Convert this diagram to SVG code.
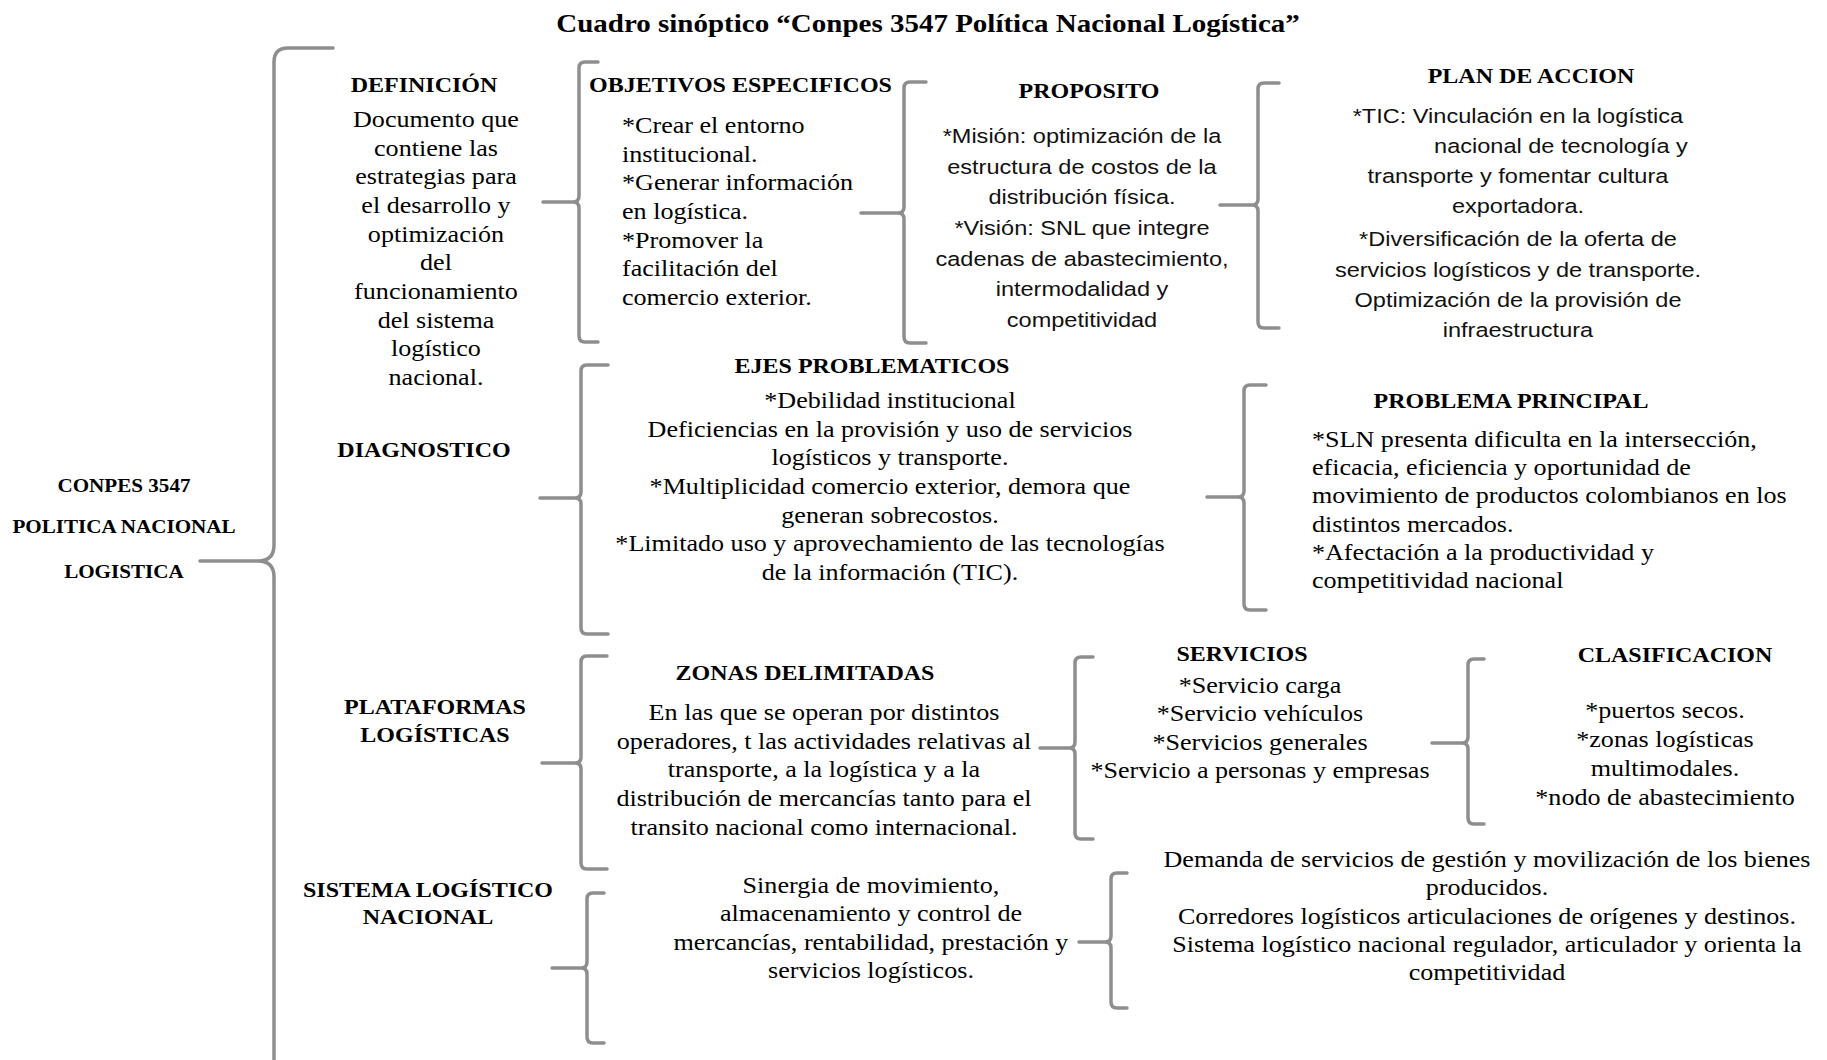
<svg xmlns="http://www.w3.org/2000/svg" width="1827" height="1060" viewBox="0 0 1827 1060">
  <defs>
    <style>
      text { fill: #000000; }
      .serif { font-family: "Liberation Serif", "Times New Roman", serif; font-size: 22.5px; }
      .sans { font-family: "Liberation Sans", Arial, sans-serif; font-size: 20.3px; fill: #111; }
      .head { font-family: "Liberation Serif", "Times New Roman", serif; font-size: 20.7px; font-weight: bold; }
      .title { font-family: "Liberation Serif", "Times New Roman", serif; font-size: 25px; font-weight: bold; }
      .root { font-family: "Liberation Serif", "Times New Roman", serif; font-size: 18.2px; font-weight: bold; }
      /* glyphs are set slightly wide: stretch each line around its own anchor */
      .c { text-anchor: middle; transform-box: fill-box; transform-origin: 50% 50%; transform: scaleX(1.16); }
      .l { text-anchor: start; transform-box: fill-box; transform-origin: 0% 50%; transform: scaleX(1.16); }
      .brace { fill: none; stroke: #8e8e8e; stroke-width: 3.5; stroke-linecap: round; stroke-linejoin: round; }
    </style>
  </defs>
  <rect width="1827" height="1060" fill="#ffffff"/>

  <g id="title">
    <text class="title c" x="928" y="32">Cuadro sinóptico “Conpes 3547 Política Nacional Logística”</text>
  </g>

  <!-- curly braces joining each level to the next -->
  <g id="connectors">
    <path class="brace" d="M333,48 H288 Q274,48 274,62 V545 Q274,561 258,561 H200 M258,561 Q274,561 274,577 V1075"/>
    <path class="brace" d="M598,62 H585 Q579,62 579,68 V196 Q579,202 573,202 H543 M573,202 Q579,202 579,208 V336 Q579,342 585,342 H598"/>
    <path class="brace" d="M926,82 H910 Q904,82 904,88 V207 Q904,213 898,213 H861 M898,213 Q904,213 904,219 V337 Q904,343 910,343 H926"/>
    <path class="brace" d="M1279,83 H1264 Q1258,83 1258,89 V199 Q1258,205 1252,205 H1220 M1252,205 Q1258,205 1258,211 V322 Q1258,328 1264,328 H1279"/>
    <path class="brace" d="M608,365 H587 Q581,365 581,371 V492 Q581,498 575,498 H540 M575,498 Q581,498 581,504 V628 Q581,634 587,634 H608"/>
    <path class="brace" d="M1266,385 H1250 Q1244,385 1244,391 V491 Q1244,497 1238,497 H1207 M1238,497 Q1244,497 1244,503 V604 Q1244,610 1250,610 H1266"/>
    <path class="brace" d="M607,656 H587 Q581,656 581,662 V757 Q581,763 575,763 H542 M575,763 Q581,763 581,769 V863 Q581,869 587,869 H607"/>
    <path class="brace" d="M1093,657 H1081 Q1075,657 1075,663 V742 Q1075,748 1069,748 H1040 M1069,748 Q1075,748 1075,754 V833 Q1075,839 1081,839 H1093"/>
    <path class="brace" d="M1484,659 H1474 Q1468,659 1468,665 V737 Q1468,743 1462,743 H1432 M1462,743 Q1468,743 1468,749 V818 Q1468,824 1474,824 H1484"/>
    <path class="brace" d="M604,893 H593 Q587,893 587,899 V962 Q587,968 581,968 H552 M581,968 Q587,968 587,974 V1037 Q587,1043 593,1043 H604"/>
    <path class="brace" d="M1127,873 H1117 Q1111,873 1111,879 V936 Q1111,942 1105,942 H1079 M1105,942 Q1111,942 1111,948 V1002 Q1111,1008 1117,1008 H1127"/>
  </g>

  <g id="n-conpes">
    <text class="root c" x="124" y="492">CONPES 3547</text>
    <text class="root c" x="124" y="533">POLITICA NACIONAL</text>
    <text class="root c" x="124" y="578">LOGISTICA</text>
  </g>

  <g id="n-definicion">
    <text class="head c" x="424" y="92">DEFINICIÓN</text>
    <text class="serif c" x="436" y="127">Documento que</text>
    <text class="serif c" x="436" y="155.7">contiene las</text>
    <text class="serif c" x="436" y="184.3">estrategias para</text>
    <text class="serif c" x="436" y="213">el desarrollo y</text>
    <text class="serif c" x="436" y="241.7">optimización</text>
    <text class="serif c" x="436" y="270.3">del</text>
    <text class="serif c" x="436" y="299">funcionamiento</text>
    <text class="serif c" x="436" y="327.7">del sistema</text>
    <text class="serif c" x="436" y="356.3">logístico</text>
    <text class="serif c" x="436" y="385">nacional.</text>
  </g>

  <g id="n-objetivos">
    <text class="head l" x="589" y="92">OBJETIVOS ESPECIFICOS</text>
    <text class="serif l" x="622" y="133">*Crear el entorno</text>
    <text class="serif l" x="622" y="161.7">institucional.</text>
    <text class="serif l" x="622" y="190.3">*Generar información</text>
    <text class="serif l" x="622" y="219">en logística.</text>
    <text class="serif l" x="622" y="247.7">*Promover la</text>
    <text class="serif l" x="622" y="276.3">facilitación del</text>
    <text class="serif l" x="622" y="305">comercio exterior.</text>
  </g>

  <g id="n-proposito">
    <text class="head c" x="1089" y="98">PROPOSITO</text>
    <text class="sans c" x="1082" y="143">*Misión: optimización de la</text>
    <text class="sans c" x="1082" y="173.7">estructura de costos de la</text>
    <text class="sans c" x="1082" y="204.3">distribución física.</text>
    <text class="sans c" x="1082" y="235">*Visión: SNL que integre</text>
    <text class="sans c" x="1082" y="265.7">cadenas de abastecimiento,</text>
    <text class="sans c" x="1082" y="296.3">intermodalidad y</text>
    <text class="sans c" x="1082" y="327">competitividad</text>
  </g>

  <g id="n-plan">
    <text class="head c" x="1531" y="83">PLAN DE ACCION</text>
    <text class="sans c" x="1518" y="123">*TIC: Vinculación en la logística</text>
    <text class="sans c" x="1561" y="153">nacional de tecnología y</text>
    <text class="sans c" x="1518" y="183">transporte y fomentar cultura</text>
    <text class="sans c" x="1518" y="213">exportadora.</text>
    <text class="sans c" x="1518" y="246">*Diversificación de la oferta de</text>
    <text class="sans c" x="1518" y="277">servicios logísticos y de transporte.</text>
    <text class="sans c" x="1518" y="307">Optimización de la provisión de</text>
    <text class="sans c" x="1518" y="337">infraestructura</text>
  </g>

  <g id="n-diagnostico">
    <text class="head c" x="424" y="457">DIAGNOSTICO</text>
  </g>

  <g id="n-ejes">
    <text class="head c" x="872" y="373">EJES PROBLEMATICOS</text>
    <text class="serif c" x="890" y="408">*Debilidad institucional</text>
    <text class="serif c" x="890" y="436.7">Deficiencias en la provisión y uso de servicios</text>
    <text class="serif c" x="890" y="465.3">logísticos y transporte.</text>
    <text class="serif c" x="890" y="494">*Multiplicidad comercio exterior, demora que</text>
    <text class="serif c" x="890" y="522.7">generan sobrecostos.</text>
    <text class="serif c" x="890" y="551.3">*Limitado uso y aprovechamiento de las tecnologías</text>
    <text class="serif c" x="890" y="580">de la información (TIC).</text>
  </g>

  <g id="n-problema">
    <text class="head c" x="1511" y="408">PROBLEMA PRINCIPAL</text>
    <text class="serif l" x="1312" y="447">*SLN presenta dificulta en la intersección,</text>
    <text class="serif l" x="1312" y="475.2">eficacia, eficiencia y oportunidad de</text>
    <text class="serif l" x="1312" y="503.4">movimiento de productos colombianos en los</text>
    <text class="serif l" x="1312" y="531.6">distintos mercados.</text>
    <text class="serif l" x="1312" y="559.8">*Afectación a la productividad y</text>
    <text class="serif l" x="1312" y="588">competitividad nacional</text>
  </g>

  <g id="n-plataformas">
    <text class="head c" x="435" y="714">PLATAFORMAS</text>
    <text class="head c" x="435" y="742">LOGÍSTICAS</text>
  </g>

  <g id="n-zonas">
    <text class="head c" x="805" y="680">ZONAS DELIMITADAS</text>
    <text class="serif c" x="824" y="720">En las que se operan por distintos</text>
    <text class="serif c" x="824" y="748.7">operadores, t las actividades relativas al</text>
    <text class="serif c" x="824" y="777.5">transporte, a la logística y a la</text>
    <text class="serif c" x="824" y="806.2">distribución de mercancías tanto para el</text>
    <text class="serif c" x="824" y="835">transito nacional como internacional.</text>
  </g>

  <g id="n-servicios">
    <text class="head c" x="1242" y="661">SERVICIOS</text>
    <text class="serif c" x="1260" y="693">*Servicio carga</text>
    <text class="serif c" x="1260" y="721">*Servicio vehículos</text>
    <text class="serif c" x="1260" y="750">*Servicios generales</text>
    <text class="serif c" x="1260" y="778">*Servicio a personas y empresas</text>
  </g>

  <g id="n-clasificacion">
    <text class="head c" x="1675" y="662">CLASIFICACION</text>
    <text class="serif c" x="1665" y="718">*puertos secos.</text>
    <text class="serif c" x="1665" y="747">*zonas logísticas</text>
    <text class="serif c" x="1665" y="776">multimodales.</text>
    <text class="serif c" x="1665" y="805">*nodo de abastecimiento</text>
  </g>

  <g id="n-sistema">
    <text class="head c" x="428" y="897">SISTEMA LOGÍSTICO</text>
    <text class="head c" x="428" y="924">NACIONAL</text>
  </g>

  <g id="n-sinergia">
    <text class="serif c" x="871" y="893">Sinergia de movimiento,</text>
    <text class="serif c" x="871" y="921.5">almacenamiento y control de</text>
    <text class="serif c" x="871" y="950">mercancías, rentabilidad, prestación y</text>
    <text class="serif c" x="871" y="978.5">servicios logísticos.</text>
  </g>

  <g id="n-demanda">
    <text class="serif c" x="1487" y="867">Demanda de servicios de gestión y movilización de los bienes</text>
    <text class="serif c" x="1487" y="895">producidos.</text>
    <text class="serif c" x="1487" y="924">Corredores logísticos articulaciones de orígenes y destinos.</text>
    <text class="serif c" x="1487" y="952">Sistema logístico nacional regulador, articulador y orienta la</text>
    <text class="serif c" x="1487" y="980">competitividad</text>
  </g>
</svg>
